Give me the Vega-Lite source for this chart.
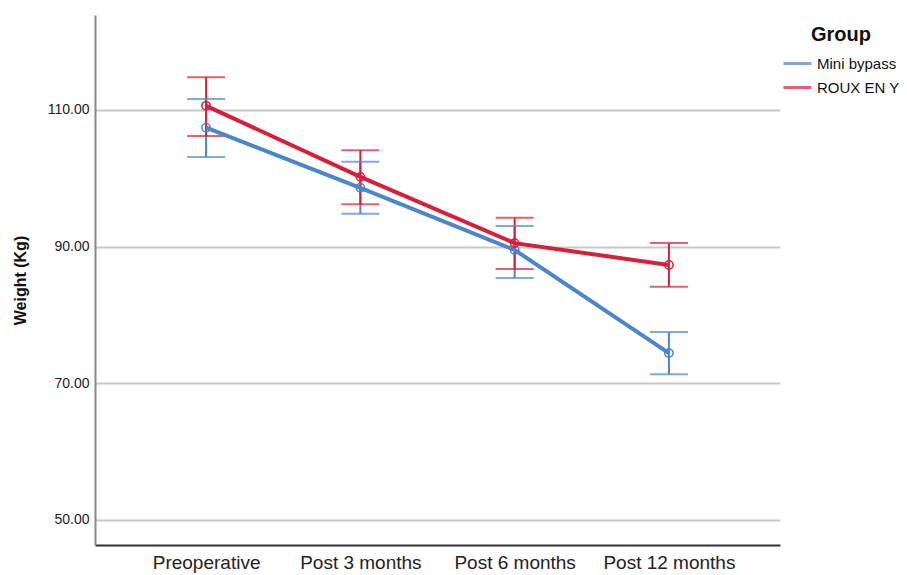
{
  "$schema": "https://vega.github.io/schema/vega-lite/v6.json",
  "width": 685,
  "height": 530,
  "autosize": {"type": "none"},
  "padding": {"left": 95, "top": 15, "right": 127, "bottom": 30},
  "background": "white",
  "data": {"values": [
    {"time": "Preoperative", "group": "Mini bypass", "mean": 107.4, "lo": 103.1, "hi": 111.6},
    {"time": "Post 3 months", "group": "Mini bypass", "mean": 98.6, "lo": 94.8, "hi": 102.4},
    {"time": "Post 6 months", "group": "Mini bypass", "mean": 89.5, "lo": 85.4, "hi": 93.0},
    {"time": "Post 12 months", "group": "Mini bypass", "mean": 74.4, "lo": 71.3, "hi": 77.5},
    {"time": "Preoperative", "group": "ROUX EN Y", "mean": 110.6, "lo": 106.2, "hi": 114.8},
    {"time": "Post 3 months", "group": "ROUX EN Y", "mean": 100.2, "lo": 96.2, "hi": 104.1},
    {"time": "Post 6 months", "group": "ROUX EN Y", "mean": 90.5, "lo": 86.7, "hi": 94.2},
    {"time": "Post 12 months", "group": "ROUX EN Y", "mean": 87.3, "lo": 84.1, "hi": 90.5}
  ]},
  "encoding": {
    "x": {
      "field": "time", "type": "ordinal",
      "sort": ["Preoperative", "Post 3 months", "Post 6 months", "Post 12 months"],
      "scale": {"type": "point", "padding": 0.72},
      "axis": {"title": null, "labelAngle": 0, "labelFont": "Liberation Sans", "labelFontSize": 19, "labelColor": "#222", "labelPadding": 8, "ticks": false, "domainColor": "#333", "domainWidth": 2, "grid": false}
    },
    "color": {
      "field": "group", "type": "nominal",
      "scale": {"domain": ["Mini bypass", "ROUX EN Y"], "range": ["#4a86c8", "#d6203a"]},
      "legend": {"orient": "none", "legendX": 687, "legendY": 10, "title": "Group", "titleFont": "Liberation Sans", "titleFontSize": 20, "titleFontWeight": "bold", "titleColor": "#111", "titleAnchor": "middle", "titlePadding": 3, "labelFont": "Liberation Sans", "labelFontSize": 15, "labelColor": "#111", "labelOffset": 4, "symbolType": "stroke", "symbolSize": 784, "symbolStrokeWidth": 3, "rowPadding": -12}
    }
  },
  "layer": [
    {
      "mark": {"type": "rule", "strokeWidth": 2},
      "encoding": {
        "y": {
          "field": "lo", "type": "quantitative",
          "scale": {"domain": [46.3, 123.9], "nice": false, "zero": false},
          "axis": {"title": "Weight (Kg)", "titleFont": "Liberation Sans", "titleFontSize": 16, "titleFontWeight": "bold", "titleColor": "#111", "titlePadding": 19, "values": [50, 70, 90, 110], "format": ".2f", "labelFont": "Liberation Sans", "labelFontSize": 14, "labelColor": "#222", "labelPadding": 6, "ticks": false, "domainColor": "#888", "domainWidth": 2, "gridColor": "#c8c8c8", "gridWidth": 2}
        },
        "y2": {"field": "hi"}
      }
    },
    {
      "mark": {"type": "tick", "thickness": 2, "size": 38},
      "encoding": {"y": {"field": "lo", "type": "quantitative"}}
    },
    {
      "mark": {"type": "tick", "thickness": 2, "size": 38},
      "encoding": {"y": {"field": "hi", "type": "quantitative"}}
    },
    {
      "mark": {"type": "line", "strokeWidth": 4},
      "encoding": {"y": {"field": "mean", "type": "quantitative"}}
    },
    {
      "mark": {"type": "point", "filled": false, "size": 70, "strokeWidth": 1.5, "opacity": 1},
      "encoding": {"y": {"field": "mean", "type": "quantitative"}}
    }
  ],
  "config": {"view": {"stroke": null}}
}
